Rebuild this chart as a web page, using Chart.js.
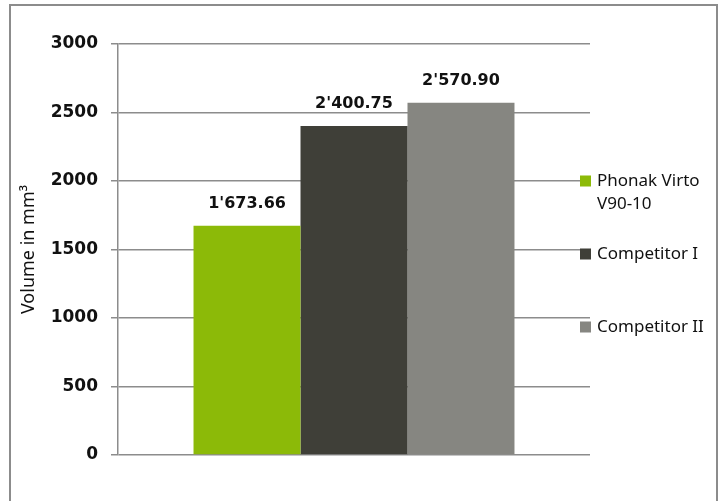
<!DOCTYPE html>
<html>
<head>
<meta charset="utf-8">
<script src="https://cdn.jsdelivr.net/npm/chart.js@4.4.1/dist/chart.umd.min.js"></script>
<style>
    html, body { margin: 0; padding: 0; background: #fff; }
    #wrap { position: relative; width: 725px; height: 501px; overflow: hidden; }
    #frame { position: absolute; left: 9px; top: 4px; width: 709px; height: 520px; border: 2px solid #8c8c8c; box-sizing: border-box; }
    #volumeChart { position: absolute; left: 0; top: 0; }
</style>
</head>
<body>
<div id="wrap">
    <div id="frame"></div>
    <canvas id="volumeChart" width="725" height="501"></canvas>
</div>
<script>
const categories = [""];
const seriesNames = [["Phonak Virto", "V90-10"], ["Competitor I"], ["Competitor II"]];
const phonakValues = [1673.66];
const competitor1Values = [2400.75];
const competitor2Values = [2570.90];
const yTicks = [0, 500, 1000, 1500, 2000, 2500, 3000];
const seriesColors = ["#8cba08", "#3f3f38", "#868681"];

// Swiss style thousands separator: 1'673.66
function swissFormat( v ) {
    const parts = v.toFixed( 2 ).split( "." );
    parts[0] = parts[0].replace( /\B(?=(\d{3})+(?!\d))/g, "'" );
    return parts.join( "." );
}

const valueLabels = {
    id: "valueLabels",
    afterDatasetsDraw( chart ) {
        const ctx = chart.ctx;
        ctx.save();
        ctx.font = "bold 16px 'DejaVu Sans'";
        ctx.fillStyle = "#111";
        ctx.textAlign = "center";
        ctx.textBaseline = "middle";
        chart.data.datasets.forEach( ( ds, i ) => {
            chart.getDatasetMeta( i ).data.forEach( ( bar, j ) => {
                ctx.fillText( swissFormat( ds.data[j] ), bar.x, bar.y - 22 );
            } );
        } );
        ctx.restore();
    }
};

const sideLegend = {
    id: "sideLegend",
    afterDraw( chart ) {
        const ctx = chart.ctx;
        const rowY = [181, 254, 327];
        ctx.save();
        ctx.font = "17px 'Noto Sans'";
        ctx.textBaseline = "middle";
        ctx.textAlign = "left";
        chart.data.datasets.forEach( ( ds, i ) => {
            ctx.fillStyle = ds.backgroundColor;
            ctx.fillRect( 580, rowY[i] - 5.5, 11, 11 );
            ctx.fillStyle = "#111";
            seriesNames[i].forEach( ( line, k ) => {
                ctx.fillText( line, 597, rowY[i] + k * 23 );
            } );
        } );
        ctx.restore();
    }
};

const ctx = document.getElementById( "volumeChart" ).getContext( "2d" );
new Chart( ctx, {
    type: "bar",
    data: {
        labels: categories,
        datasets: [
            { label: seriesNames[0].join( " " ), data: phonakValues, backgroundColor: seriesColors[0] },
            { label: seriesNames[1].join( " " ), data: competitor1Values, backgroundColor: seriesColors[1] },
            { label: seriesNames[2].join( " " ), data: competitor2Values, backgroundColor: seriesColors[2] }
        ]
    },
    options: {
        responsive: false,
        animation: false,
        devicePixelRatio: 1,
        categoryPercentage: 0.68,
        barPercentage: 1.0,
        layout: { padding: { left: 0, right: 135, top: 44, bottom: 46 } },
        plugins: {
            legend: { display: false },
            tooltip: { enabled: false }
        },
        scales: {
            x: { display: false },
            y: {
                min: 0,
                max: 3000,
                afterBuildTicks( scale ) {
                    scale.ticks = yTicks.map( v => ( { value: v } ) );
                },
                afterFit( scale ) {
                    scale.width = 118;
                },
                ticks: {
                    padding: 13,
                    color: "#111",
                    font: { family: "'DejaVu Sans'", size: 17, weight: "bold" },
                    callback: v => String( v )
                },
                grid: { color: "#8c8c8c", lineWidth: 1.5, tickLength: 7 },
                border: { display: true, color: "#8c8c8c", width: 1.5 },
                title: {
                    display: true,
                    text: "Volume in mm³",
                    color: "#111",
                    padding: { top: 18, bottom: 0 },
                    font: { family: "'Noto Sans'", size: 18 }
                }
            }
        }
    },
    plugins: [valueLabels, sideLegend]
} );
</script>
</body>
</html>
